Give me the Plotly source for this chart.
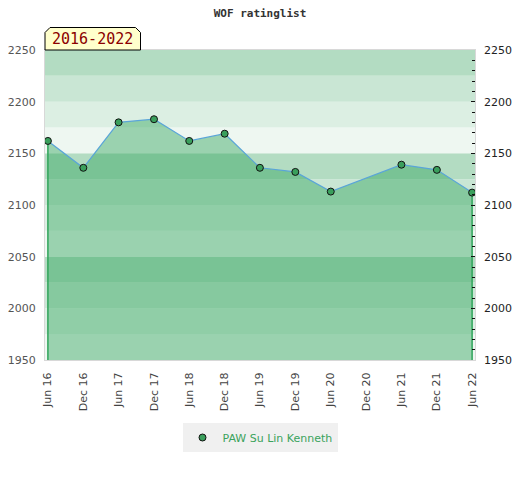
import plotly.graph_objects as go

# ---- data ----
dates = ["2016-06-01", "2016-12-01", "2017-06-01", "2017-12-01", "2018-06-01",
         "2018-12-01", "2019-06-01", "2019-12-01", "2020-06-01", "2021-06-01",
         "2021-12-01", "2022-06-01"]
ratings = [2162, 2136, 2180, 2183, 2162, 2169, 2136, 2132, 2113, 2139, 2134, 2112]
player = "PAW Su Lin Kenneth"
title_text = "WOF ratinglist"
period_label = "2016-2022"
y_min, y_max = 1950, 2250
band_step = 25

# ---- styles ----
band_palette = ["#eef7f1", "#dcefe3", "#c9e6d4", "#b3dcc2"]  # bottom->top within each 100
fill_rgba = "rgba(47,165,90,0.44)"
line_col = "#5aa5d8"
marker_col = "#3a9f5c"
legend_text_col = "#3aa35c"

fig = go.Figure()

# area + line
fig.add_trace(go.Scatter(
    x=dates, y=ratings, mode="lines", fill="tozeroy", fillcolor=fill_rgba,
    line=dict(color=line_col, width=1.2), showlegend=False, hoverinfo="skip"))

# green edges of the area
fig.add_trace(go.Scatter(
    x=[dates[0], dates[0], None, dates[-1], dates[-1]],
    y=[ratings[0], y_min, None, ratings[-1], y_min],
    mode="lines", line=dict(color="#2fa55a", width=1.5),
    showlegend=False, hoverinfo="skip"))

# markers (legend entry)
fig.add_trace(go.Scatter(
    x=dates, y=ratings, mode="markers", name=player,
    marker=dict(size=7, color=marker_col, line=dict(color="#111", width=1))))

# dummy trace on right axis
fig.add_trace(go.Scatter(x=[dates[0]], y=[ratings[0]], yaxis="y2", mode="markers",
                         marker=dict(opacity=0), showlegend=False, hoverinfo="skip"))

# background bands
shapes = []
lv = y_min
i = 0
while lv < y_max:
    shapes.append(dict(type="rect", xref="paper", yref="y", x0=0, x1=1, y0=lv, y1=lv + band_step,
                       fillcolor=band_palette[i % 4], line=dict(width=0), layer="below"))
    lv += band_step
    i += 1

# page offset (browser body margin) compensation
OFF = 8
FW, FH = 520 - OFF, 480 - OFF
W, H = 430.0, 310.0
def px(x):
    return (x - 45) / W
def py(y):
    return (360 - y) / H
bx0, bx1, by0, by1, c = 45, 140.5, 27.5, 50, 5
path = (f"M {px(bx0)},{py(by1)} L {px(bx0)},{py(by0 + c)} L {px(bx0 + c)},{py(by0)} "
        f"L {px(bx1 - c)},{py(by0)} L {px(bx1)},{py(by0 + c)} L {px(bx1)},{py(by1)} Z")
shapes.append(dict(type="path", xref="paper", yref="paper", path=path,
                   fillcolor="#ffffcc", line=dict(color="#000", width=1), layer="above"))

fig.update_layout(
    width=FW, height=FH,
    margin=dict(l=45 - OFF, r=520 - 475, t=50 - OFF, b=480 - 360, autoexpand=False),
    paper_bgcolor="white", plot_bgcolor="white",
    shapes=shapes,
    title=dict(text=title_text, xref="container", x=(260 - OFF) / FW, xanchor="center",
               yref="container", y=1 - (13 - OFF) / FH, yanchor="middle",
               font=dict(family="DejaVu Sans Mono", size=11, color="#333", weight="bold")),
    annotations=[dict(text=period_label, xref="paper", yref="paper",
                      x=px(92), y=py(39.5), xanchor="center", yanchor="middle", showarrow=False,
                      font=dict(family="DejaVu Sans Mono", size=15, color="#8b0000"))],
    xaxis=dict(type="date", range=["2016-05-17", "2022-06-16"], tick0="2016-06-01", dtick="M6",
               tickformat="%b %y", tickangle=-90, showgrid=False, zeroline=False,
               showline=True, linecolor="#d8d8d8", mirror=True, ticks="", automargin=False,
               ticklabelstandoff=7,
               tickfont=dict(family="DejaVu Sans", size=11, color="#444")),
    yaxis=dict(range=[y_min, y_max], dtick=50, showgrid=False, zeroline=False,
               showline=True, linecolor="#d8d8d8", mirror=True, ticks="", automargin=False,
               ticklabelstandoff=6,
               tickfont=dict(family="DejaVu Sans", size=11, color="#555")),
    yaxis2=dict(range=[y_min, y_max], dtick=50, overlaying="y", side="right", automargin=False,
                showgrid=False, zeroline=False, ticks="inside", ticklen=4, tickcolor="#111",
                minor=dict(dtick=10, ticks="inside", ticklen=3, tickcolor="#111"),
                ticklabelstandoff=8,
                tickfont=dict(family="DejaVu Sans", size=11, color="#222")),
    legend=dict(orientation="h", x=0.5, xanchor="center", y=-(423 - 360) / H, yanchor="top",
                bgcolor="#f0f0f0", font=dict(family="DejaVu Sans", size=11, color=legend_text_col)),
)

fig.write_html("out.html")
